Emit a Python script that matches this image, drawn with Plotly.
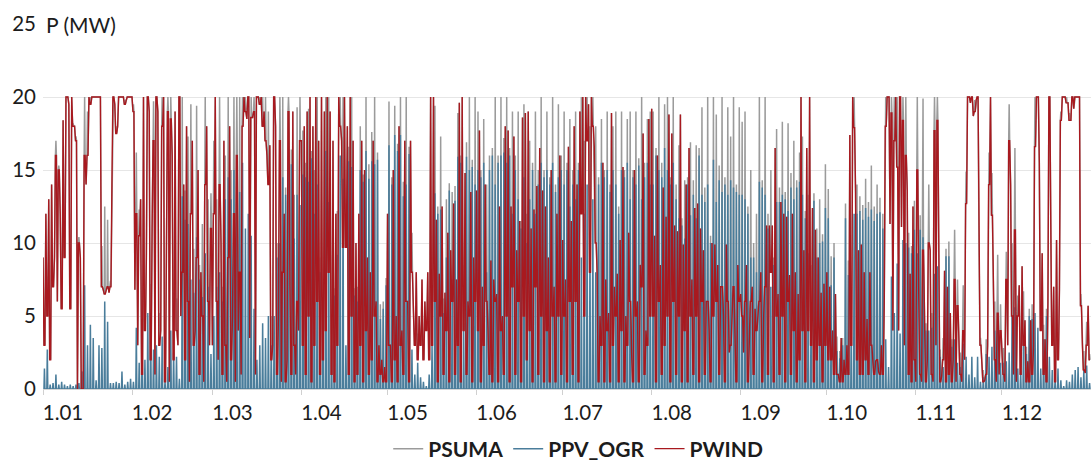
import numpy as np
import pandas as pd
import plotly.graph_objects as go

YEAR = 2021
MONTH_LABELS = ["1.01", "1.02", "1.03", "1.04", "1.05", "1.06",
                "1.07", "1.08", "1.09", "1.10", "1.11", "1.12"]
Y_TICKS = [0, 5, 10, 15, 20, 25]

# Daily midday PV peak (MW)
PV_JAN = [1.4, 2.7, 0.3, 0.4, 1.0, 0.3, 0.5, 0.3, 0.2, 0.3, 0.2, 0.3, 0.4, 1.2, 7.1, 3.0,
          4.4, 3.5, 0.6, 3.0, 2.8, 6.0, 4.6, 0.4, 0.4, 0.5, 0.4, 1.2, 0.3, 0.5, 0.7]
PV_FEB = [0.5, 4.2, 1.8, 3.6, 2.0, 5.2, 5.2, 2.7, 3.0, 2.2, 3.6, 0.5, 1.5, 4.0, 2.5, 2.2,
          0.7, 13.2, 11.6, 11.3, 7.5, 6.6, 10.4, 7.5, 6.3, 9.3, 7.0, 2.4]
PV_MAR = [5, 7, 8, 6, 13, 14.5, 13, 15, 14, 13.5, 15.5, 11, 12, 10.5, 5.5, 2, 3, 4.5, 3.5,
          5, 3, 5, 9, 10, 14.5, 13.3, 16, 15.4, 10.3, 13.3, 12.6]
PV_APR = [14.7, 14.5, 14.2, 15.8, 12, 14, 8, 5, 16.3, 12.8, 3, 6.4, 9.2, 16, 14.4, 3, 15.6,
          15.2, 6.4, 6, 15, 14.2, 16.3, 14.4, 15.6, 15.4, 15.7, 4.8, 5.5, 7.1]
PV_MAY = [16.7, 14, 17.4, 16.3, 17.4, 13.2, 14, 16.1, 2.7, 1, 1.8, 0.8, 0.5, 0.2, 1, 3, 13.4,
          12, 12.3, 5.2, 9, 13.6, 7.5, 12.9, 15.9, 15.5, 4.5, 15.9, 15, 15.2, 14]
PV_JUN = [15, 14.5, 15.5, 8, 15, 16, 14, 15.5, 16, 16.2, 15.5, 16, 12, 15, 13, 11, 14.5, 10,
          13, 15, 12, 14, 15.5, 14.5, 15, 14, 15.5, 13.5, 14.5, 15]
PV_JUL = [14, 15, 12.5, 14, 13, 15, 9, 12, 14, 10, 13, 8, 14, 15.5, 14.5, 15, 13.5, 15, 14,
          12, 15, 14.5, 15.5, 13, 14.5, 14, 15.3, 13, 14.5, 15.5, 14]
PV_AUG = [14, 16, 15, 14.5, 16.5, 15, 14, 15.5, 13, 11.7, 11.2, 10.3, 14, 11.9, 13.3, 11.7,
          16, 13.3, 12.8, 14, 10, 15.7, 12.8, 14.3, 13.5, 14, 13.3, 14.3, 13.8, 13.5, 13.3]
PV_SEP = [13.3, 13, 12, 9, 9, 8, 14.2, 13.8, 13.3, 11, 7, 8.5, 12.8, 12.8, 13.3, 13, 12.2,
          13.8, 13, 13.8, 14.2, 13.3, 11.7, 9.3, 5.5, 12.9, 9, 10, 10.1, 12.4]
PV_OCT = [11.7, 7.1, 9, 2.6, 2.1, 3, 11.7, 7.8, 4.8, 12, 12, 12.2, 11.6, 12.4, 11.8, 12.3,
          11.5, 12.0, 12.1, 11, 3.4, 1.5, 7.7, 5.2, 8.6, 3.8, 10.2, 10, 9.7, 9.3, 10.9]
PV_NOV = [9.3, 10.9, 10.4, 4, 4, 4.2, 7.9, 8.4, 2.2, 1.5, 9.1, 9.1, 2.9, 3.4, 1.8, 1.5, 3.1,
          2.2, 1, 2.2, 0.8, 2.2, 0.5, 0.8, 2.4, 2.2, 2.9, 4, 4, 1.8]
PV_DEC = [1.8, 1.9, 2.5, 5.0, 5.6, 1.4, 1.2, 3.7, 2.4, 5.0, 4.8, 5.2, 4.2, 1.4, 3.4, 5.0,
          2.2, 1.3, 0.6, 1.4, 0.6, 0.2, 0.6, 0.5, 1.0, 1.3, 1.5, 0.8, 1.3, 1.6, 0.4]

# Wind power (MW), two readings per day: night (around 00:00), daytime level (08:00-16:00)
WIND_JAN = [9, 3, 12, 5, 13, 2, 14, 7, 9, 16, 6, 15, 12, 5.5, 18.4, 9, 20, 20, 19.5, 5.5,
            20, 18, 18, 17, 0, 10, 9, 0, 0, 16, 14, 16, 20, 19.5, 20, 20, 20, 20, 20, 20,
            20, 7, 6.8, 6.5, 6.8, 7, 6.6, 7, 14, 20, 19.5, 17.5, 18, 20, 20, 20, 20, 19.5,
            19.8, 20, 20, 20]
WIND_FEB = [20, 19, 6.8, 12, 3, 10.5, 13, 1, 20, 4, 9, 20, 19, 2, 11, 17, 1, 20, 19, 3,
            4, 18, 20, 0.5, 12, 19, 0.5, 18.5, 16, 2, 19, 4, 3, 20, 5, 8, 14, 2, 18, 6,
            0.5, 12, 17, 3, 4, 9, 15, 1, 8, 5, 0.5, 14, 18, 6, 3, 11]
WIND_MAR = [3, 12, 20, 6, 2, 14, 10, 1, 17, 3, 0.5, 9, 18, 2, 5, 12, 0.5, 16, 4, 8,
            1, 18, 20, 19, 18.5, 20, 3.5, 18.6, 18.6, 19, 1, 20, 20, 19.5, 20, 18, 19, 17,
            16, 14, 16.7, 2, 3, 20, 18, 1, 5, 17, 0.5, 8, 12, 0.5, 2, 19, 7, 1, 19, 3,
            1, 6, 4, 17]
WIND_APR = [17, 3, 18, 1, 19, 5, 20, 0.5, 18, 3, 20, 6, 17, 1, 20, 2, 19, 4, 20, 8,
            19, 1, 17, 0.5, 12, 3, 20, 18, 17, 9.7, 20, 9.7, 18, 1, 20, 5, 17, 0.5, 10, 1,
            12, 3, 17, 0.5, 15, 4, 9, 1, 8, 2, 17, 5, 6, 0.5, 3, 1, 2, 0.5, 1.5, 0.5]
WIND_MAY = [12, 3, 3, 0.5, 15, 2, 5, 0.5, 18, 3, 4, 1, 17, 6, 6, 0.5, 17, 8, 6, 3,
            8, 2, 5, 3, 7.5, 2, 6, 4, 8, 2, 20, 3, 20, 6, 11.6, 0.5, 7.9, 5, 12.5, 1,
            6.6, 4, 10.7, 0.5, 9.5, 6, 12.7, 1, 7.5, 3, 19.6, 0.5, 20, 4, 14.8, 1, 6, 5,
            13.5, 0.5, 9, 6]
WIND_JUN = [13.6, 4, 17.7, 0.5, 7, 3, 14, 6, 4, 1, 8.8, 0.5, 7.5, 6, 6.5, 0.5, 12.5, 4,
            5, 1, 18, 5, 17.7, 0.5, 12.5, 7, 17.3, 1, 9.5, 6, 11.5, 0.5, 18.6, 5, 18.9, 2,
            19, 4, 11, 0.5, 12.3, 7, 13.9, 1, 16.5, 5, 13.6, 0.5, 12.5, 4, 9, 0.5, 15, 5,
            7, 0.5, 12, 5, 16, 1]
WIND_JUL = [10.2, 5, 7.5, 0.5, 16.6, 6, 11.5, 1, 18, 6, 14, 0.5, 19, 12, 20, 5, 20, 17,
            19.5, 8, 20, 18, 16.6, 10, 7.9, 0.5, 5, 3, 15.5, 0.5, 7.5, 4, 5.2, 0.5, 18.9, 3,
            7, 5, 7.9, 0.5, 10.2, 4, 15.2, 0.5, 5, 3, 10.7, 6, 2.5, 0.5, 15, 5, 6, 0.5,
            8.5, 7, 17.5, 1, 4, 3, 18.5, 5]
WIND_AUG = [19.2, 5, 10.5, 0.5, 16, 6, 8.5, 1, 13.8, 3, 11.8, 5, 18.8, 0.5, 17.5, 6,
            11.2, 1, 10.8, 5, 18.8, 0.5, 9.9, 4, 14, 0.5, 16.5, 5, 7.5, 1, 12.4, 5,
            12.7, 0.5, 11, 6, 9.5, 1, 6, 6, 4, 0.5, 10, 5, 9.9, 6, 8.5, 1, 7, 7, 5, 0.5,
            9.9, 6, 2.5, 3, 6, 7, 2, 0.5, 8.5, 6]
WIND_SEP = [6.5, 5, 2.5, 6, 8.5, 0.5, 5, 6, 7, 1, 5.5, 4, 5.3, 6, 8, 0.5, 5, 7, 11.2, 1,
            11.2, 8, 11.2, 0.5, 16.5, 5, 6.5, 1, 12.8, 5, 12, 0.5, 11.8, 6, 7.8, 1, 12, 4,
            8, 0.5, 6.5, 2, 20, 4, 9.5, 0.5, 16.5, 4, 20, 3, 12.4, 0.5, 10.9, 2, 9, 3,
            6.6, 0.5, 7.2, 3]
WIND_OCT = [8, 2, 7, 2, 4, 1, 6.5, 1, 1, 0.5, 3.5, 0.5, 2, 1, 3, 1, 17.4, 3, 20, 17.9,
            13.5, 2, 9.5, 1, 9.9, 1, 8, 2, 4.8, 1, 8, 3, 1.9, 1, 1.9, 2, 1.2, 1, 3, 1,
            6, 18, 20, 20, 11.3, 18.9, 4, 17, 20, 15.2, 4, 20, 11.1, 18.4, 3, 16,
            13.6, 1, 7.9, 0.5, 12.5, 2]
WIND_NOV = [0.5, 15, 6.5, 1, 0.5, 9.5, 5.4, 0.5, 2, 10, 9.5, 1, 0.5, 17.7, 3, 18.4,
            9.3, 0.5, 0.9, 2, 8.1, 0.5, 7, 1, 5.2, 0.5, 2, 7.5, 0.5, 5.7, 4, 1, 0.5, 4,
            2, 12.7, 20, 20, 19.6, 20, 18.7, 19, 19.8, 20, 9.7, 3, 1.1, 0.5, 0.6, 1,
            3, 14, 20, 11.9, 7.5, 2, 0.5, 5.2, 1, 4]
WIND_DEC = [2.4, 1, 0.5, 7.5, 3, 17, 14, 5, 1, 10.9, 0.5, 5, 7.1, 1, 8.4, 3, 4.7, 0.5,
            1.9, 0.5, 4.7, 1, 3, 16.6, 20, 20, 15.5, 4, 9.3, 1, 3.4, 0.5, 6, 20, 11.3, 3,
            7, 0.5, 10.2, 2, 6.8, 18.4, 20, 20, 20, 19.6, 19.6, 18.4, 18.4, 20, 19.2, 20,
            20, 20, 20, 5.7, 3, 1.3, 1.1, 3, 5.7, 2]

PV_MONTHS = [PV_JAN, PV_FEB, PV_MAR, PV_APR, PV_MAY, PV_JUN,
             PV_JUL, PV_AUG, PV_SEP, PV_OCT, PV_NOV, PV_DEC]
WIND_MONTHS = [WIND_JAN, WIND_FEB, WIND_MAR, WIND_APR, WIND_MAY, WIND_JUN,
               WIND_JUL, WIND_AUG, WIND_SEP, WIND_OCT, WIND_NOV, WIND_DEC]

days = pd.date_range(f"{YEAR}-01-01", f"{YEAR}-12-31", freq="D")
for m, (p, w) in enumerate(zip(PV_MONTHS, WIND_MONTHS), start=1):
    n = int((days.month == m).sum())
    assert len(p) == n, (m, len(p), n)
    assert len(w) == 2 * n, (m, len(w), 2 * n)

pv_peak = np.array(sum(PV_MONTHS, []), dtype=float)
wind_pairs = np.array(sum(WIND_MONTHS, []), dtype=float).reshape(-1, 2)
wind_night = wind_pairs[:, 0]
wind_day = wind_pairs[:, 1]

H = pd.Timedelta(hours=1)
N = len(days)


def interleave(*cols):
    return np.column_stack(cols).ravel()


t0 = days.values
t8 = (days + 8 * H).values
t12 = (days + 12 * H).values
t16 = (days + 16 * H).values

# wind: night reading, daytime level held over the PV hours
wind_x = interleave(t0, t8, t16)
wind_y = interleave(wind_night, wind_day, wind_day)
# PV: zero at 08:00 and 16:00, peak at noon
pv_x = interleave(t8, t12, t16)
pv_y = interleave(np.zeros(N), pv_peak, np.zeros(N))
# total = PV + wind, limited to the 20 MW connection
sum_x = interleave(t0, t8, t12, t16)
sum_y = interleave(wind_night, wind_day, np.minimum(20, wind_day + pv_peak), wind_day)

GREY = "#9b9b9b"
BLUE = "#4a7d9b"
RED = "#a8191f"
FONT = "Lato"
TXT = "#1c1c1c"

fig = go.Figure()
fig.add_trace(go.Scatter(x=sum_x, y=sum_y, mode="lines", name="PSUMA",
                         line=dict(color=GREY, width=1.5)))
fig.add_trace(go.Scatter(x=pv_x, y=pv_y, mode="lines", name="PPV_OGR",
                         line=dict(color=BLUE, width=1.5)))
fig.add_trace(go.Scatter(x=wind_x, y=wind_y, mode="lines", name="PWIND",
                         line=dict(color=RED, width=1.4)))

month_starts = pd.date_range(f"{YEAR}-01-01", periods=12, freq="MS")
fig.update_layout(
    width=1091, height=462,
    margin=dict(l=43, r=0, t=24, b=73),
    paper_bgcolor="white", plot_bgcolor="white",
    font=dict(family=FONT, size=20, color=TXT),
    showlegend=True,
    legend=dict(orientation="h", xref="container", yref="container",
                x=0.53, xanchor="center", y=13 / 462, yanchor="middle",
                font=dict(family=FONT, size=21, color=TXT, weight="bold"),
                traceorder="normal"),
    xaxis=dict(range=[f"{YEAR}-01-01", f"{YEAR + 1}-01-01"], tickmode="array",
               tickvals=month_starts, ticktext=MONTH_LABELS, showgrid=False,
               showline=True, linecolor="#d6d6d6", linewidth=1, ticks="outside",
               ticklen=5, tickcolor="#d0d0d0", ticklabelshift=20, zeroline=False,
               tickfont=dict(family=FONT, size=20.5, color=TXT)),
    yaxis=dict(range=[0, 25], tickmode="array", tickvals=Y_TICKS, showgrid=True,
               gridcolor="#e6e6e6", gridwidth=1, zeroline=False, showline=False,
               ticks="", ticklabelstandoff=6,
               tickfont=dict(family=FONT, size=20.5, color=TXT)),
    annotations=[dict(text="P (MW)", xref="paper", yref="y", x=0, y=25, xanchor="left",
                      yanchor="middle", xshift=1, showarrow=False, bgcolor="white",
                      font=dict(family=FONT, size=21, color=TXT))],
)

fig.write_html("out.html")
